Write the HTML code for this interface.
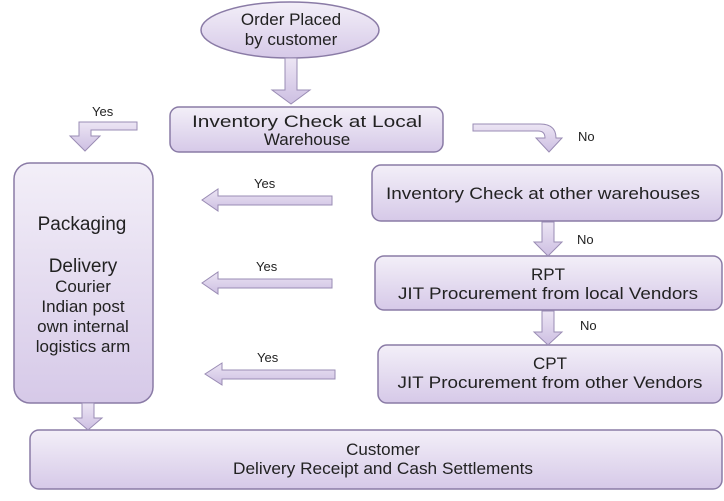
<!DOCTYPE html>
<html><head><style>
html,body{margin:0;padding:0;background:#fff;}
svg{display:block;}
text{font-family:"Liberation Sans",sans-serif;fill:#222;}
</style></head><body>
<svg width="724" height="501" viewBox="0 0 724 501">
<defs>
<linearGradient id="g" x1="0" y1="0" x2="0" y2="1">
<stop offset="0" stop-color="#f3eff8"/><stop offset="1" stop-color="#d6c9e8"/>
</linearGradient>
<linearGradient id="gh" x1="0" y1="0" x2="0" y2="1">
<stop offset="0" stop-color="#ece5f4"/><stop offset="1" stop-color="#cdbfe2"/>
</linearGradient>
</defs>
<g stroke="#8a7ba6" stroke-width="1.5" fill="url(#g)">
<ellipse cx="290" cy="30" rx="89" ry="28"/>
<rect x="170" y="107" width="273" height="45" rx="9"/>
<rect x="14" y="163" width="139" height="240" rx="16"/>
<rect x="372" y="165" width="350" height="56" rx="9"/>
<rect x="375" y="256" width="347" height="54" rx="9"/>
<rect x="378" y="345" width="344" height="58" rx="9"/>
<rect x="30" y="430" width="692" height="59" rx="9"/>
</g>
<g stroke="#9a8cb4" stroke-width="1" fill="url(#gh)">
<polygon points="285,58 297,58 297,90 310,90 291,104 272,90 285,90"/>
<polygon points="137,122 137,130 91,130 91,136 100,136 85,151 70,136 79,136 79,122"/>
<path d="M473,124 L540,124 Q556,124 556,138 L562,138 L549,152 L536,138 L545,138 Q545,131 538,131 L473,131 Z"/>
<polygon points="332,196 332,205 218,205 218,211 202,200 218,189 218,196"/>
<polygon points="332,279 332,288 218,288 218,294 202,283 218,272 218,279"/>
<polygon points="335,370 335,379 222,379 222,385 205,374 222,363 222,370"/>
<polygon points="542,222 554,222 554,242 562,242 548,256 534,242 542,242"/>
<polygon points="542,311 554,311 554,332 562,332 548,345 534,332 542,332"/>
<polygon points="82,403 94,403 94,418 102,418 88,430 74,418 82,418"/>
</g>
<g font-size="17" text-anchor="middle">
<text x="291" y="25" font-size="17">Order Placed</text>
<text x="291" y="45" font-size="17">by customer</text>
<text x="307" y="127" textLength="230" lengthAdjust="spacingAndGlyphs">Inventory Check at Local</text>
<text x="307" y="145">Warehouse</text>
<text x="543" y="199" textLength="314" lengthAdjust="spacingAndGlyphs">Inventory Check at other warehouses</text>
<text x="548" y="280">RPT</text>
<text x="548" y="299" textLength="300" lengthAdjust="spacingAndGlyphs">JIT Procurement from local Vendors</text>
<text x="550" y="369">CPT</text>
<text x="550" y="388" textLength="305" lengthAdjust="spacingAndGlyphs">JIT Procurement from other Vendors</text>
<text x="383" y="455">Customer</text>
<text x="383" y="474" textLength="300" lengthAdjust="spacingAndGlyphs">Delivery Receipt and Cash Settlements</text>
<text x="82" y="230" font-size="19">Packaging</text>
<text x="83" y="272" font-size="19">Delivery</text>
<text x="83" y="292" font-size="17">Courier</text>
<text x="83" y="312" font-size="17">Indian post</text>
<text x="83" y="332" font-size="17">own internal</text>
<text x="83" y="352" font-size="17">logistics arm</text>
</g>
<g font-size="13">
<text x="92" y="116">Yes</text>
<text x="254" y="188">Yes</text>
<text x="256" y="271">Yes</text>
<text x="257" y="362">Yes</text>
<text x="578" y="141">No</text>
<text x="577" y="244">No</text>
<text x="580" y="330">No</text>
</g>
</svg>
</body></html>
